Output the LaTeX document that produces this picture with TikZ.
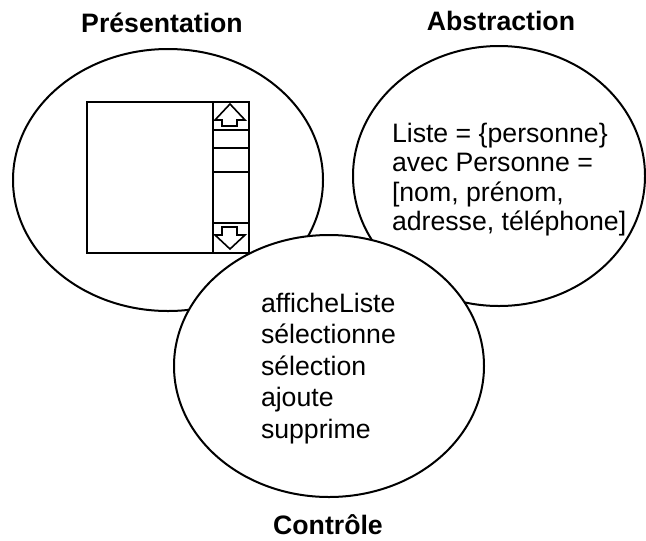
\documentclass[tikz,border=0pt]{standalone}
\usepackage{fontspec}
\setmainfont{Liberation Sans}
\begin{document}
\begin{tikzpicture}[x=0.75pt, y=-0.75pt, line width=1.5pt,
    every node/.style={inner sep=0pt, font=\fontsize{20}{24}\selectfont},
    titre/.style={anchor=base, font=\fontsize{20}{24}\selectfont\bfseries},
    ligne/.style={anchor=base west}]
  \useasboundingbox (0,0) rectangle (646,540);

  % titres
  \node[titre] (pres-titre) at (162,32) {Présentation};
  \node[titre] (abs-titre) at (501,30) {Abstraction};
  \node[titre] (ctl-titre) at (328,534) {Contrôle};

  % ellipses du haut
  \draw (168,180) ellipse [x radius=155, y radius=131];
  \draw (499,176) ellipse [x radius=146, y radius=130];

  % fenêtre avec barre de défilement
  \draw (87,102) rectangle (249,253);
  \draw (213,102) -- (213,253);
  \foreach \y in {130,148,172,223}
    \draw (213,\y) -- (249,\y);
  % flèche haut
  \draw[line width=1.2pt] (215,120) -- (230,104) -- (245,120) -- (237,120)
    -- (237,126) -- (222,126) -- (222,120) -- cycle;
  % flèche bas
  \draw[line width=1.2pt] (222,227) -- (237,227) -- (237,235) -- (245,235)
    -- (230,249) -- (215,235) -- (222,235) -- cycle;

  % texte de l'abstraction
  \foreach \txt [count=\i] in {Liste = \{personne\}, avec Personne =,
      {[nom, prénom,}, {adresse, téléphone]}}
    \node[ligne] (abs-\i) at (391,{142+29.6*(\i-1)}) {\txt};

  % ellipse du contrôle (par-dessus)
  \draw[fill=white] (329,366) ellipse [x radius=155, y radius=131];
  \foreach \txt [count=\i] in {afficheListe, sélectionne, sélection, ajoute, supprime}
    \node[ligne] (ctl-\i) at (260,{312+31.5*(\i-1)}) {\txt};
\end{tikzpicture}
\end{document}
